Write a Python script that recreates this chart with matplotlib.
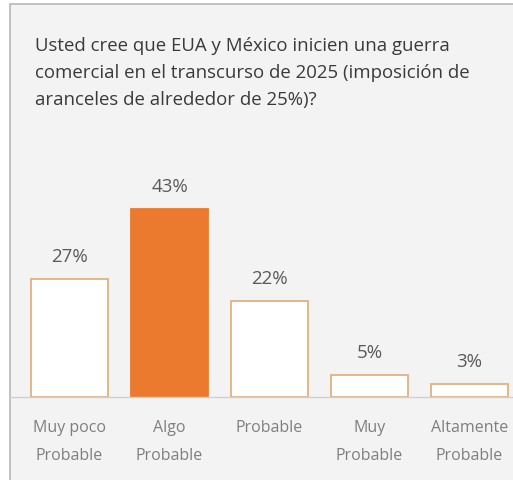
import matplotlib.pyplot as plt
from matplotlib.patches import Rectangle

# ====================== DATA ======================
categories = ["Muy poco\nProbable", "Algo\nProbable", "Probable", "Muy\nProbable", "Altamente\nProbable"]
values = [27, 43, 22, 5, 3]
highlight = 1

title = ("Usted cree que EUA y México inicien una guerra\n"
         "comercial en el transcurso de 2025 (imposición de\n"
         "aranceles de alrededor de 25%)?")

W, H = 513, 481
font = ["Open Sans", "DejaVu Sans"]
orange = "#ec7a2e"
edge = "#e0b27f"

fig = plt.figure(figsize=(W / 100, H / 100), dpi=100)
fig.patch.set_facecolor("white")

# card background with grey border (cropped on the right / bottom)
bg = fig.add_axes([0, 0, 1, 1], zorder=-5)
bg.set_xlim(0, W)
bg.set_ylim(H, 0)
bg.axis("off")
bg.add_patch(Rectangle((10, 5), W, H, facecolor="#f3f3f3", edgecolor="#b8b8b8", linewidth=1.2))

fig.text(35 / W, 1 - 37 / H, title, ha="left", va="top", fontsize=13.4,
         color="#3a3a3a", family=font, linespacing=1.65)

# axes: baseline at y=398px, 4.37 px per percent
ax = fig.add_axes([10 / W, (H - 398) / H, 1 - 10 / W, 218.5 / H])
ax.set_facecolor("none")
ax.set_xlim(-0.595, 4.435)
ax.set_ylim(0, 50)

x = list(range(len(values)))
colors = [orange if i == highlight else "white" for i in x]
edges = [orange if i == highlight else edge for i in x]
ax.bar(x, values, width=0.77, color=colors, edgecolor=edges, linewidth=1.3, zorder=2)

for i, v in enumerate(values):
    ax.annotate(f"{v}%", (i, v), xytext=(0, 10), textcoords="offset points",
                ha="center", va="bottom", fontsize=13.5, color="#595959", family=font)
    ax.annotate(categories[i], (i, 0), xytext=(0, -16), textcoords="offset points",
                ha="center", va="top", fontsize=11.5, color="#7f7f7f", family=font,
                linespacing=1.95)

for s in ["top", "right", "left"]:
    ax.spines[s].set_visible(False)
ax.spines["bottom"].set_color("#d0d0d0")
ax.spines["bottom"].set_linewidth(1.0)
ax.set_xticks([])
ax.set_yticks([])

plt.savefig("out.png", dpi=100)
